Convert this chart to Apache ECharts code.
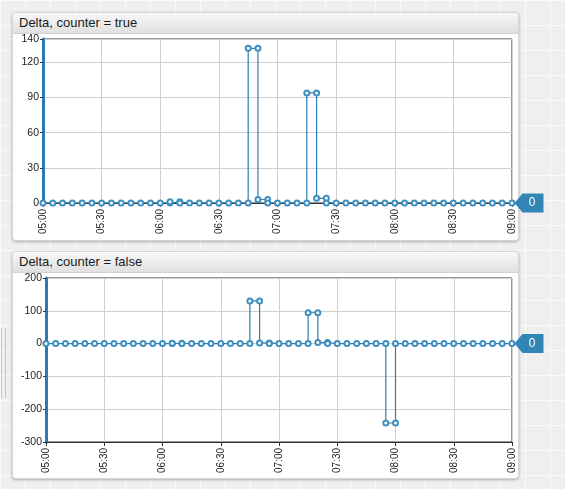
<!DOCTYPE html>
<html>
<head>
<meta charset="utf-8">
<script src="https://cdn.jsdelivr.net/npm/echarts@6/dist/echarts.min.js"></script>
<style>
  html, body { margin: 0; padding: 0; }
  body {
    width: 565px; height: 489px; overflow: hidden; position: relative;
    background-color: #efefef;
    background-image:
      linear-gradient(to right, #fafafa 1px, transparent 1px),
      linear-gradient(to bottom, #fafafa 1px, transparent 1px);
    background-size: 25px 25px;
    font-family: "Liberation Sans", Arial, sans-serif;
  }
  .panel {
    position: absolute; left: 12px; width: 505px;
    background: #fff; border: 1px solid #d6d6d6; border-radius: 4px;
    box-shadow: 0 1px 3px rgba(0,0,0,0.28);
  }
  .head {
    height: 20px; line-height: 20px; padding-left: 6px;
    font-size: 13px; color: #1a1a1a;
    background: linear-gradient(#f8f8f8, #e0e0e0);
    border-bottom: 1px solid #d2d2d2; border-radius: 4px 4px 0 0;
  }
  .edge { position: absolute; left: 1px; top: 328px; width: 3px; height: 70px;
    border-left: 1px solid #c4c4c4; border-right: 1px solid #c4c4c4; }
  #chart { position: absolute; left: 0; top: 0; width: 565px; height: 489px; }
</style>
</head>
<body>
<div class="edge"></div>
<div class="panel" style="top:12px;height:227px"><div class="head">Delta, counter = true</div></div>
<div class="panel" style="top:251px;height:226px"><div class="head">Delta, counter = false</div></div>
<div id="chart"></div>
<script>
// counter = true
var timesTrue = ['05:00','05:05','05:10','05:15','05:20','05:25','05:30','05:35','05:40','05:45',
  '05:50','05:55','06:00','06:05','06:05','06:10','06:10','06:15','06:20','06:25','06:30','06:35',
  '06:40','06:45','06:45','06:50','06:50','06:55','06:55','07:00','07:05','07:10','07:15','07:15',
  '07:20','07:20','07:25','07:25','07:30','07:35','07:40','07:45','07:50','07:55','08:00','08:05',
  '08:10','08:15','08:20','08:25','08:30','08:35','08:40','08:45','08:50','08:55','09:00'];
var valuesTrue = [0,0,0,0,0,0,0,0,0,0,
  0,0,0,0,1,1,0,0,0,0,0,0,
  0,0,132,132,3,3,0,0,0,0,0,94,
  94,4,4,0,0,0,0,0,0,0,0,0,
  0,0,0,0,0,0,0,0,0,0,0];

// counter = false
var timesFalse = ['05:00','05:05','05:10','05:15','05:20','05:25','05:30','05:35','05:40','05:45',
  '05:50','05:55','06:00','06:05','06:05','06:10','06:10','06:15','06:20','06:25','06:30','06:35',
  '06:40','06:45','06:45','06:50','06:50','06:55','06:55','07:00','07:05','07:10','07:15','07:15',
  '07:20','07:20','07:25','07:25','07:30','07:35','07:40','07:45','07:50','07:55','07:55','08:00',
  '08:00','08:05','08:10','08:15','08:20','08:25','08:30','08:35','08:40','08:45','08:50','08:55','09:00'];
var valuesFalse = [0,0,0,0,0,0,0,0,0,0,
  0,0,0,0,1,1,0,0,0,0,0,0,
  0,0,130,130,2,2,0,0,0,0,0,94,
  94,3,3,0,0,0,0,0,0,0,-242,-242,
  0,0,0,0,0,0,0,0,0,0,0,0,0];

var yTicksTrue = { min: 0, max: 140, interval: 30 };
var yTicksFalse = { min: -300, max: 200, interval: 100 };

var LINE = '#2b7db1';
var POINT = '#3f8fc0';
var TAG = '#3186b6';

function toMin(t) {
  var p = t.split(':');
  return +p[0] * 60 + +p[1];
}
function fmt(m) {
  var h = Math.floor(m / 60), mm = m % 60;
  return (h < 10 ? '0' : '') + h + ':' + (mm < 10 ? '0' : '') + mm;
}
function pairs(times, values) {
  return times.map(function (t, i) { return [toMin(t), values[i]]; });
}

function xAxis(idx) {
  return {
    type: 'value', gridIndex: idx, min: 300, max: 540, interval: 30,
    axisLine: { onZero: false, lineStyle: { color: '#333' } },
    axisTick: { length: 4, lineStyle: { color: '#333' } },
    axisLabel: { rotate: 90, margin: 6, fontSize: 10, color: '#222', formatter: fmt,
      fontFamily: 'Liberation Sans' },
    splitLine: { lineStyle: { color: '#cfcfcf' } }
  };
}
function yAxis(idx, t) {
  return {
    type: 'value', gridIndex: idx, min: t.min, max: t.max, interval: t.interval,
    axisLine: { show: true, lineStyle: { color: LINE, width: 3 } },
    axisTick: { show: true, length: 3, lineStyle: { color: '#333' } },
    axisLabel: { margin: 4, fontSize: 10.5, color: '#222', fontFamily: 'Liberation Sans' },
    splitLine: { lineStyle: { color: '#cfcfcf' } }
  };
}
function series(idx, data) {
  var last = data[data.length - 1];
  return {
    type: 'line', xAxisIndex: idx, yAxisIndex: idx, data: data,
    symbol: 'emptyCircle', symbolSize: 5, showAllSymbol: true,
    lineStyle: { color: LINE, width: 1.2 },
    itemStyle: { color: POINT, borderWidth: 1 },
    animation: false,
    markPoint: {
      symbol: 'path://M0,9L8,0L29,0L29,18L8,18Z',
      symbolSize: [29, 19], symbolOffset: [17, 0],
      itemStyle: { color: TAG },
      label: { show: true, position: 'inside', color: '#fff', fontSize: 12, offset: [3, 0],
        fontFamily: 'Liberation Sans', formatter: String(last[1]) },
      data: [{ coord: last, value: last[1] }]
    }
  };
}

var myChart = echarts.init(document.getElementById('chart'), null, { renderer: 'canvas' });
myChart.setOption({
  animation: false,
  grid: [
    { left: 43, top: 39, width: 469, height: 164, show: true, borderColor: '#333', borderWidth: 1 },
    { left: 46, top: 278, width: 466, height: 164, show: true, borderColor: '#333', borderWidth: 1 }
  ],
  xAxis: [xAxis(0), xAxis(1)],
  yAxis: [yAxis(0, yTicksTrue), yAxis(1, yTicksFalse)],
  series: [
    series(0, pairs(timesTrue, valuesTrue)),
    series(1, pairs(timesFalse, valuesFalse))
  ]
});
</script>
</body>
</html>
